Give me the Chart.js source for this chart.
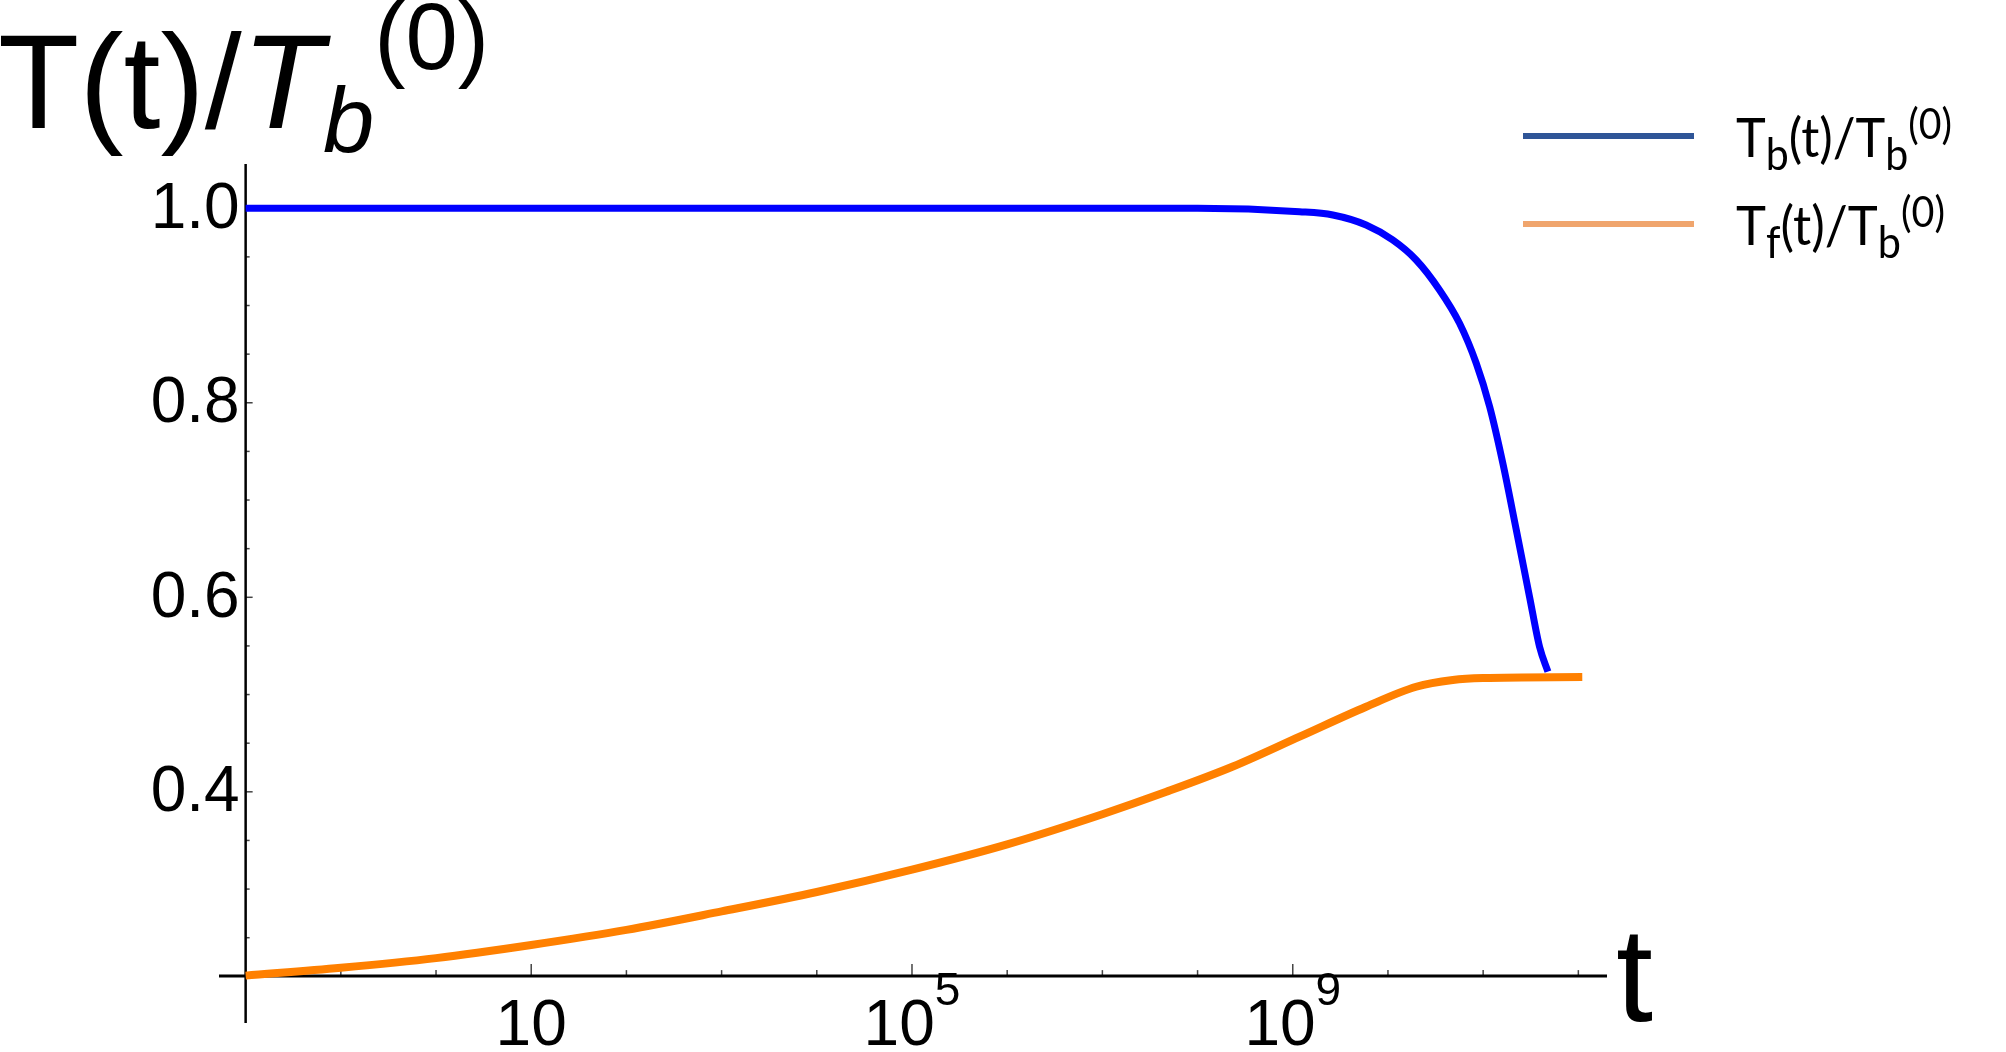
<!DOCTYPE html>
<html>
<head>
<meta charset="utf-8">
<script src="https://cdn.jsdelivr.net/npm/chart.js@4.4.1/dist/chart.umd.min.js"></script>
<style>
  html, body { margin: 0; padding: 0; background: #fff; }
  #wrap { width: 2006px; height: 1052px; position: relative; }
</style>
</head>
<body>
<div id="wrap"><canvas id="temps"></canvas></div>
<script>
// hot bath temperature (t on a log axis)
const tHot = [1e-2, 1, 1e4, 1e7, 1e8, 1.18e9, 2.64e9, 5.9e9, 1.12e10, 1.98e10, 3.48e10, 5.65e10, 8.46e10, 1.17e11, 1.61e11, 2.23e11, 3.07e11, 3.91e11, 4.79e11];
const Tb = [1.0, 1.0, 1.0, 1.0, 1.0, 0.9965, 0.9931, 0.9828, 0.9674, 0.9468, 0.916, 0.8817, 0.8406, 0.796, 0.7378, 0.6692, 0.6006, 0.5492, 0.5235];

// the other one, warming up
const tCold = [1e-2, 1e-1, 1, 10, 1e2, 1e3, 1e4, 1e5, 1e6, 1e7, 4.7e7, 2.35e8, 1.18e9, 5.9e9, 1.98e10, 4.8e10, 1e11, 1.1e12];
const Tf = [0.211, 0.219, 0.229, 0.2425, 0.258, 0.277, 0.297, 0.320, 0.346, 0.377, 0.400, 0.426, 0.4567, 0.4875, 0.508, 0.515, 0.517, 0.518];

// axes
const xTicks = [1e-2, 1e-1, 1, 10, 1e2, 1e3, 1e4, 1e5, 1e6, 1e7, 1e8, 1e9, 1e10, 1e11, 1e12];
const xMajor = [10, 1e5, 1e9];
const xLabels = [['10', ''], ['10', '5'], ['10', '9']];
const yTicks = [0.25, 0.3, 0.35, 0.4, 0.45, 0.5, 0.55, 0.6, 0.65, 0.7, 0.75, 0.8, 0.85, 0.9, 0.95, 1.0];
const yMajor = [0.4, 0.6, 0.8, 1.0];
const xOrigin = 1e-2;
const yOrigin = 0.2105;

// legend entries: [T, sub, middle, sub, sup]
const names = [['T', 'b', '(t)/T', 'b', '(0)'], ['T', 'f', '(t)/T', 'b', '(0)']];

const SANS = '"Liberation Sans", Arial, sans-serif';

function rich(ctx, parts, x, y, width) {
    let w = 0;
    parts.forEach(p => { ctx.font = p[1]; w += ctx.measureText(p[0]).width; });
    const k = width ? width / w : 1;
    ctx.save();
    ctx.translate(x, y);
    ctx.scale(k, 1);
    let cx = 0;
    parts.forEach(p => {
        ctx.font = p[1];
        ctx.fillText(p[0], cx, p[2]);
        cx += ctx.measureText(p[0]).width;
    });
    ctx.restore();
    return w * k;
}

const axesPlugin = {
    id: 'axes',
    beforeDatasetsDraw(chart) {
        const { ctx, chartArea, scales: { x, y } } = chart;
        const ox = x.getPixelForValue(xOrigin);
        const oy = y.getPixelForValue(yOrigin);
        ctx.save();
        ctx.strokeStyle = '#444';
        ctx.lineWidth = 1.5;
        xTicks.forEach(v => {
            const px = x.getPixelForValue(v);
            const len = xMajor.includes(v) ? 12 : 6;
            ctx.beginPath(); ctx.moveTo(px, oy); ctx.lineTo(px, oy - len); ctx.stroke();
        });
        yTicks.forEach(v => {
            const py = y.getPixelForValue(v);
            const len = yMajor.includes(v) ? 7 : 4;
            ctx.beginPath(); ctx.moveTo(ox, py); ctx.lineTo(ox + len, py); ctx.stroke();
        });
        ctx.strokeStyle = '#000';
        ctx.lineWidth = 3;
        ctx.beginPath(); ctx.moveTo(chartArea.left, oy); ctx.lineTo(chartArea.right, oy); ctx.stroke();
        ctx.lineWidth = 2.5;
        ctx.beginPath(); ctx.moveTo(ox, chartArea.top); ctx.lineTo(ox, chartArea.bottom); ctx.stroke();

        // tick labels
        ctx.fillStyle = '#000';
        ctx.font = '64px ' + SANS;
        ctx.textAlign = 'right';
        ctx.textBaseline = 'middle';
        yMajor.forEach(v => ctx.fillText(v.toFixed(1), ox - 6, y.getPixelForValue(v) + 2));
        ctx.textAlign = 'left';
        ctx.textBaseline = 'alphabetic';
        xMajor.forEach((v, i) => {
            const parts = [[xLabels[i][0], '64px ' + SANS, 0], [xLabels[i][1], '46px ' + SANS, -40]];
            let w = 0;
            parts.forEach(p => { ctx.font = p[1]; w += ctx.measureText(p[0]).width; });
            rich(ctx, parts, x.getPixelForValue(v) - w / 2, oy + 69);
        });
        ctx.restore();
    },
    afterDraw(chart) {
        const { ctx, chartArea, scales: { x, y } } = chart;
        ctx.save();
        ctx.fillStyle = '#000';
        ctx.textAlign = 'left';
        ctx.textBaseline = 'alphabetic';

        // y title
        rich(ctx, [
            ['T(t)/', '133px ' + SANS, 0],
            ['T', 'italic 133px ' + SANS, 0],
            ['b', 'italic 92px ' + SANS, 24],
            ['(0)', '94px ' + SANS, -59]
        ], -2, 128);

        // x title
        ctx.font = '133px ' + SANS;
        ctx.fillText('t', chartArea.right + 9, y.getPixelForValue(yOrigin) + 45);

        // legend
        const colors = ['#2F5597', '#F0A56D'];
        const targets = [216, 209];
        names.forEach((n, i) => {
            const ly = 136 + i * 88;
            ctx.strokeStyle = colors[i];
            ctx.lineWidth = 6;
            ctx.beginPath(); ctx.moveTo(1523, ly); ctx.lineTo(1694, ly); ctx.stroke();
            ctx.fillStyle = '#000';
            rich(ctx, [
                [n[0], '54px Lato', 0],
                [n[1], '44px Lato', 13],
                [n[2], '54px Lato', 0],
                [n[3], '44px Lato', 13],
                [n[4], '42px Lato', -18]
            ], 1736, ly + 21, targets[i]);
        });
        ctx.restore();
    }
};

new Chart(document.getElementById('temps'), {
    type: 'line',
    data: {
        datasets: [{
            label: 'Tb(t)/Tb(0)',
            data: tHot.map((t, i) => ({ x: t, y: Tb[i] })),
            borderColor: '#0000FF',
            borderWidth: 7
        }, {
            label: 'Tf(t)/Tb(0)',
            data: tCold.map((t, i) => ({ x: t, y: Tf[i] })),
            borderColor: '#FF8000',
            borderWidth: 8
        }]
    },
    options: {
        responsive: true,
        maintainAspectRatio: false,
        animation: false,
        layout: { padding: { left: 219, right: 399, top: 164, bottom: 29 } },
        elements: {
            point: { radius: 0 },
            line: { cubicInterpolationMode: 'monotone', borderCapStyle: 'butt' }
        },
        plugins: { legend: { display: false }, tooltip: { enabled: false } },
        scales: {
            x: { type: 'logarithmic', min: 5.25e-3, max: 2.0e12, display: false },
            y: { type: 'linear', min: 0.1623, max: 1.0455, display: false }
        }
    },
    plugins: [axesPlugin]
});
</script>
</body>
</html>
